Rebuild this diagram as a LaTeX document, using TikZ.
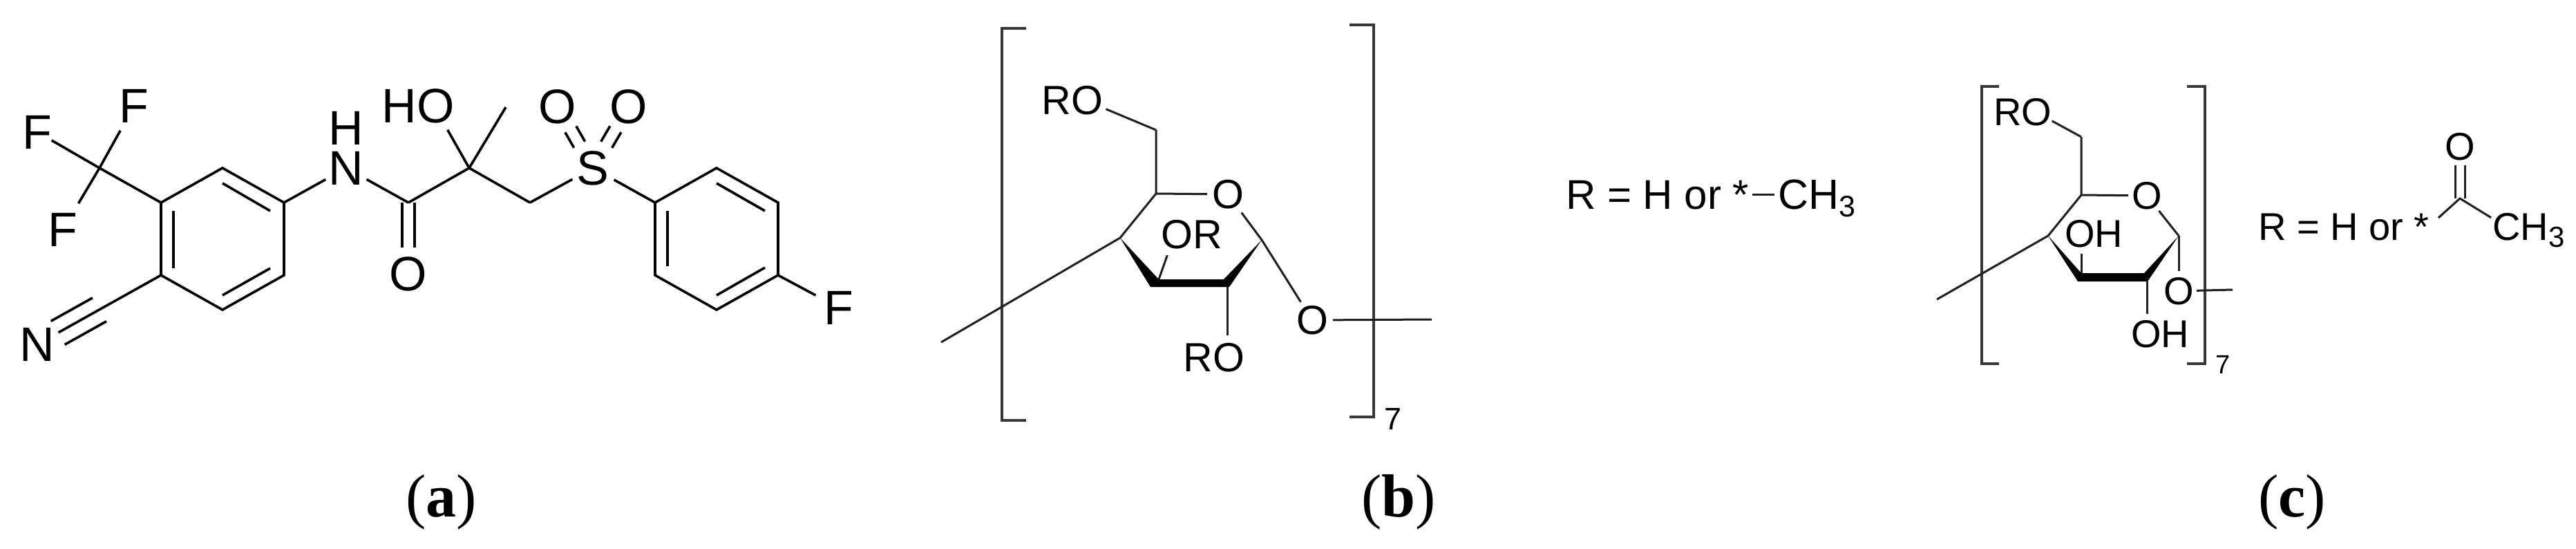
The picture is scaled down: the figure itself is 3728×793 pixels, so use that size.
\documentclass[tikz,border=0pt]{standalone}
\usepackage{fontspec}
\setmainfont{Liberation Sans}
\newfontfamily\serifl{Liberation Serif}
\begin{document}
\begin{tikzpicture}[x=1pt,y=-1pt,
  atoma/.style={inner sep=0pt,font=\fontsize{70}{84}\selectfont},
  atomb/.style={inner sep=0pt,font=\fontsize{59}{70}\selectfont},
  atomc/.style={inner sep=0pt,font=\fontsize{56}{66}\selectfont},
  lab/.style={inner sep=0pt,anchor=base west,font=\serifl\fontsize{88}{100}\selectfont},
  bonda/.style={draw=black,line width=3.6pt,line join=miter},
  bondb/.style={draw=black!88,line width=3pt,line join=miter},
  brk/.style={draw=black!78,line width=4pt,line join=miter},
  wedge/.style={fill=black,draw=none}]
\useasboundingbox (0,0) rectangle (3728,793);
% ---------- (a)
\coordinate (cf) at (144,243);
\coordinate (a1) at (233,293);
\coordinate (a2) at (322,243);
\coordinate (a3) at (411,293);
\coordinate (a4) at (411,398);
\coordinate (a5) at (322,448);
\coordinate (a6) at (233,398);
\coordinate (ia1) at (322,265);
\coordinate (ia2) at (391,305);
\coordinate (ia3) at (251,305);
\coordinate (ia4) at (251,388);
\coordinate (ia5) at (322,427);
\coordinate (ia6) at (391,388);
\coordinate (co) at (591,293);
\coordinate (cq) at (679,243);
\coordinate (me) at (732,155);
\coordinate (ch2) at (767,293);
\coordinate (b1) at (948,293);
\coordinate (b2) at (1037,243);
\coordinate (b3) at (1126,293);
\coordinate (b4) at (1126,398);
\coordinate (b5) at (1037,448);
\coordinate (b6) at (948,398);
\coordinate (ib1) at (1037,265);
\coordinate (ib2) at (1107,305);
\coordinate (ib3) at (966,305);
\coordinate (ib4) at (966,385);
\coordinate (ib5) at (1037,427);
\coordinate (ib6) at (1107,387);
\node[atoma] (f1) at (194,153) {F};
\node[atoma] (f2) at (54,191) {F};
\node[atoma] (f3) at (91,332) {F};
\node[atoma] (n1) at (54,498) {N};
\node[atoma] (nh) at (501,243) {N};
\node[atoma] (hh) at (501,185) {H};
\node[atoma] (ho) at (605,153) {HO};
\node[atoma] (o1) at (591,396) {O};
\node[atoma] (s) at (858,243) {S};
\node[atoma] (ol) at (807,154) {O};
\node[atoma] (or) at (910,154) {O};
\node[atoma] (f4) at (1214,445) {F};
\draw[bonda,shorten >=41pt] (cf) -- (f1.center);
\draw[bonda,shorten >=24pt] (cf) -- (f2.center);
\draw[bonda,shorten >=44pt] (cf) -- (f3.center);
\draw[bonda] (cf) -- (a1);
\draw[bonda] (a1) -- (a2) -- (a3) -- (a4) -- (a5) -- (a6) -- cycle;
\draw[bonda] (ia1) -- (ia2);
\draw[bonda] (ia3) -- (ia4);
\draw[bonda] (ia5) -- (ia6);
\draw[bonda,shorten >=35pt] (a6) -- (n1.center);
\draw[bonda,shorten <=102pt,shorten >=34pt] ([shift={(10,17)}]a6) -- ([shift={(10,17)}]n1.center);
\draw[bonda,shorten <=102pt,shorten >=34pt] ([shift={(-10,-17)}]a6) -- ([shift={(-10,-17)}]n1.center);
\draw[bonda,shorten >=34pt] (a3) -- (nh.center);
\draw[bonda,shorten <=34pt] (nh.center) -- (co);
\draw[bonda] (co) -- (cq) -- (ch2);
\draw[bonda,shorten >=38pt] ([xshift=-9pt]co) -- ([xshift=-9pt]o1.center);
\draw[bonda,shorten >=38pt] ([xshift=9pt]co) -- ([xshift=9pt]o1.center);
\draw[bonda,shorten >=40pt] (cq) -- ([xshift=23pt]ho.center);
\draw[bonda] (cq) -- (me);
\draw[bonda,shorten >=34pt] (ch2) -- (s.center);
\draw[bonda,shorten <=35pt] (s.center) -- (b1);
\draw[bonda,shorten <=39pt,shorten >=38pt] ([shift={(8,-4.5)}]s.center) -- ([shift={(8,-4.5)}]ol.center);
\draw[bonda,shorten <=39pt,shorten >=38pt] ([shift={(-8,4.5)}]s.center) -- ([shift={(-8,4.5)}]ol.center);
\draw[bonda,shorten <=39pt,shorten >=38pt] ([shift={(8,4.5)}]s.center) -- ([shift={(8,4.5)}]or.center);
\draw[bonda,shorten <=39pt,shorten >=38pt] ([shift={(-8,-4.5)}]s.center) -- ([shift={(-8,-4.5)}]or.center);
\draw[bonda] (b1) -- (b2) -- (b3) -- (b4) -- (b5) -- (b6) -- cycle;
\draw[bonda] (ib1) -- (ib2);
\draw[bonda] (ib3) -- (ib4);
\draw[bonda] (ib5) -- (ib6);
\draw[bonda,shorten >=38pt] (b4) -- (f4.center);
\node[lab] (la) at (587,747) {(\textbf{a})};
% ---------- (b)
\coordinate (bl1) at (1485,41);
\coordinate (bl2) at (1450,41);
\coordinate (bl3) at (1450,608);
\coordinate (bl4) at (1485,608);
\coordinate (br1) at (1953,36);
\coordinate (br2) at (1988,36);
\coordinate (br3) at (1988,603);
\coordinate (br4) at (1953,603);
\draw[brk] (bl1) -- (bl2) -- (bl3) -- (bl4);
\draw[brk] (br1) -- (br2) -- (br3) -- (br4);
\coordinate (c6) at (1673,188);
\coordinate (c5) at (1673,280);
\coordinate (c4) at (1621,344);
\coordinate (c3a) at (1677,404);
\coordinate (c3b) at (1665,415);
\coordinate (c2a) at (1771,404);
\coordinate (c2b) at (1779,415);
\coordinate (c2m) at (1776,415);
\coordinate (c1) at (1826,347);
\coordinate (tl) at (1362,495);
\coordinate (tr) at (2072,462);
\node[atomb] (ro1) at (1552,145) {RO};
\node[atomb] (ob) at (1777,281) {O};
\node[atomb] (orr) at (1725,339) {OR};
\node[atomb] (ro2) at (1757,517) {RO};
\node[atomb] (og) at (1899,463) {O};
\node[inner sep=0pt,font=\fontsize{45}{54}\selectfont] (seven) at (2016,606) {7};
\draw[bondb,shorten >=33pt] (c6) -- ([xshift=18pt]ro1.center);
\draw[bondb] (c6) -- (c5) -- (c4);
\draw[bondb,shorten >=30pt] (c5) -- (ob.center);
\draw[bondb] (c4) -- (tl);
\draw[bondb,shorten <=33pt] (ob.center) -- (c1);
\draw[bondb,shorten >=31pt] (c1) -- (og.center);
\draw[bondb,shorten >=32pt] (c3a) -- ([xshift=-25pt]orr.center);
\draw[bondb,shorten >=32pt] (c2m) -- ([xshift=19pt]ro2.center);
\draw[bondb,shorten <=30pt] (og.center) -- (tr);
\fill[wedge] (c4) -- (c3a) -- (c2a) -- (c1) -- (c2b) -- (c3b) -- cycle;
\node[inner sep=0pt,anchor=base west,font=\fontsize{60}{72}\selectfont] (rb) at (2266,302) {R = H or *};
\node[inner sep=0pt,anchor=base west,font=\fontsize{61}{72}\selectfont] (chb) at (2573,302) {CH\raisebox{-11pt}{\fontsize{43}{50}\selectfont 3}};
\draw[bondb,shorten <=4pt,shorten >=5pt] (rb.east) -- (rb.east -| chb.west);
\node[lab] (lb) at (1970,747) {(\textbf{b})};
% ---------- (c)
\coordinate (kl1) at (2893,125);
\coordinate (kl2) at (2868,125);
\coordinate (kl3) at (2868,526);
\coordinate (kl4) at (2893,526);
\coordinate (kr1) at (3165,125);
\coordinate (kr2) at (3191,125);
\coordinate (kr3) at (3191,526);
\coordinate (kr4) at (3165,526);
\draw[brk] (kl1) -- (kl2) -- (kl3) -- (kl4);
\draw[brk] (kr1) -- (kr2) -- (kr3) -- (kr4);
\coordinate (d6) at (3012,198);
\coordinate (d5) at (3012,282);
\coordinate (d4) at (2964,341);
\coordinate (d3a) at (3012,395);
\coordinate (d3b) at (3007,407);
\coordinate (d2a) at (3103,395);
\coordinate (d2b) at (3108,407);
\coordinate (d2m) at (3107,407);
\coordinate (d1) at (3153,341);
\coordinate (dl) at (2803,433);
\coordinate (dr) at (3231,419);
\node[atomc] (ro3) at (2927,162) {RO};
\node[atomc] (oc) at (3107,283) {O};
\node[atomc] (ohu) at (3030,338) {OH};
\node[atomc] (ohl) at (3126,483) {OH};
\node[atomc] (oh) at (3153,421) {O};
\node[inner sep=0pt,font=\fontsize{38}{46}\selectfont] (sevenb) at (3217,527) {7};
\draw[bondb,shorten >=27pt] (d6) -- ([xshift=19pt]ro3.center);
\draw[bondb] (d6) -- (d5) -- (d4);
\draw[bondb,shorten >=27pt] (d5) -- (oc.center);
\draw[bondb] (d4) -- (dl);
\draw[bondb,shorten <=28pt] (oc.center) -- (d1);
\draw[bondb,shorten >=29pt] (d1) -- (oh.center);
\draw[bondb,shorten <=26pt] (oh.center) -- (dr);
\draw[bondb,shorten >=29pt] (d3a) -- ([xshift=-18pt]ohu.center);
\draw[bondb,shorten >=29pt] (d2m) -- ([xshift=-19pt]ohl.center);
\fill[wedge] (d4) -- (d3a) -- (d2a) -- (d1) -- (d2b) -- (d3b) -- cycle;
\node[inner sep=0pt,anchor=base west,font=\fontsize{56}{66}\selectfont] (rc) at (3268,347) {R = H or *};
\node[inner sep=0pt,anchor=base west,font=\fontsize{56}{66}\selectfont] (chc) at (3607,347) {CH\raisebox{-10pt}{\fontsize{42}{50}\selectfont 3}};
\coordinate (ac) at (3560,287);
\node[atomc] (oac) at (3560,212) {O};
\draw[bondb] ([shift={(13,-13)}]rc.east) -- (ac) -- ([shift={(-2,7)}]chc.north west);
\draw[bondb,shorten >=27pt] ([xshift=-7pt]ac) -- ([xshift=-7pt]oac.center);
\draw[bondb,shorten >=27pt] ([xshift=7pt]ac) -- ([xshift=7pt]oac.center);
\node[lab] (lc) at (3268,747) {(\textbf{c})};
\end{tikzpicture}
\end{document}
